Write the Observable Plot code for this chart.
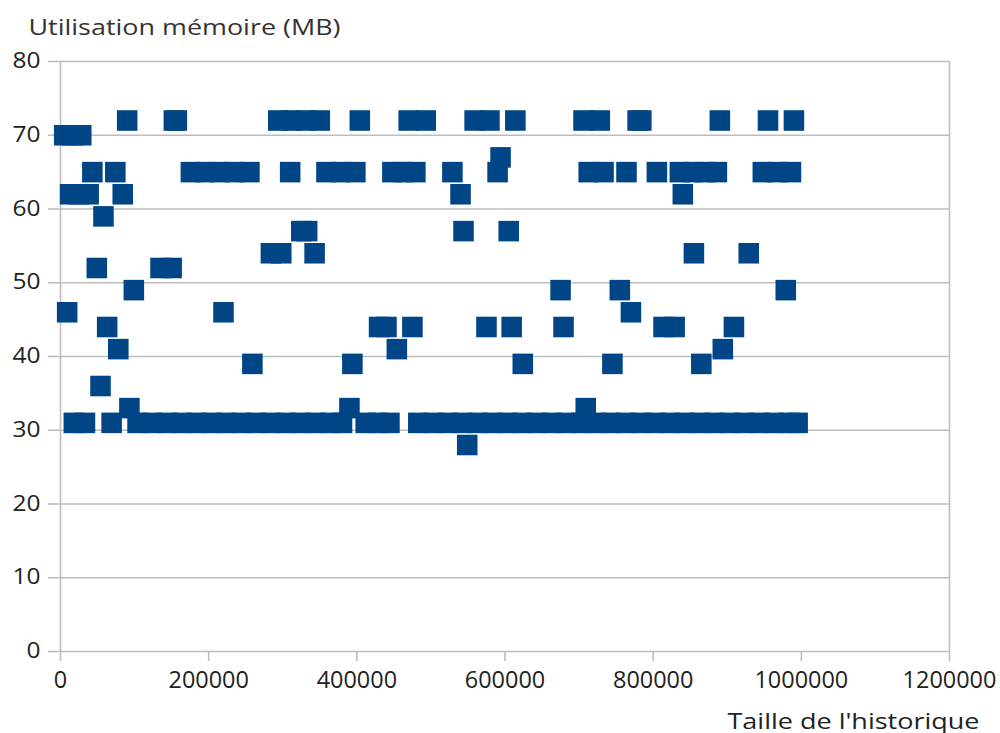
<!DOCTYPE html>
<html>
<head>
<meta charset="utf-8">
<script src="https://cdn.jsdelivr.net/npm/d3@7"></script>
<script src="https://cdn.jsdelivr.net/npm/@observablehq/plot@0.6"></script>
<style>
  html, body { margin: 0; padding: 0; background: #fff; }
  #chart { width: 1000px; height: 733px; }
</style>
</head>
<body>
<div id="chart"></div>
<script>
// Memory usage (MB) levels and the history sizes at which each level was measured
const mem72 = [90000, 153000, 157000, 294000, 312000, 331000, 350000, 404000, 470000, 493000, 559000, 579000, 614000, 706000, 728000, 779000, 784000, 890000, 955000, 990000];
const mem70 = [5000, 16000, 28000];
const mem67 = [594000];
const mem65 = [43000, 74000, 176000, 195000, 215000, 235000, 255000, 310000, 359000, 378000, 398000, 448000, 463000, 479000, 529000, 590000, 713000, 733000, 764000, 805000, 836000, 853000, 870000, 886000, 948000, 967000, 986000];
const mem62 = [13000, 25000, 38000, 84000, 540000, 840000];
const mem59 = [58000];
const mem57 = [325000, 333000, 544000, 605000];
const mem54 = [284000, 298000, 343000, 855000, 929000];
const mem52 = [49000, 135000, 150000];
const mem49 = [99000, 675000, 755000, 979000];
const mem46 = [9000, 220000, 770000];
const mem44 = [63000, 430000, 440000, 475000, 575000, 609000, 679000, 814000, 829000, 909000];
const mem41 = [78000, 454000, 894000];
const mem39 = [259000, 394000, 624000, 745000, 865000];
const mem36 = [54000];
const mem33 = [93000, 390000, 709000];
const mem31 = [18000, 33000, 69000,
  104000, 124000, 144000, 164000, 184000, 204000, 224000, 244000, 264000, 284000, 304000, 324000, 344000, 364000, 380000,
  412000, 428000, 444000,
  483000, 503000, 523000, 543000, 563000, 583000, 603000, 623000, 643000, 663000, 683000, 703000, 723000, 743000, 763000,
  783000, 803000, 823000, 843000, 863000, 883000, 903000, 923000, 943000, 963000, 983000, 995000];
const mem28 = [549000];

const xTicks = [0, 200000, 400000, 600000, 800000, 1000000, 1200000];
const yTicks = [0, 10, 20, 30, 40, 50, 60, 70, 80];
const yTitle = "Utilisation mémoire (MB)";
const xTitle = "Taille de l'historique";

const levels = [
  [72, mem72], [70, mem70], [67, mem67], [65, mem65], [62, mem62], [59, mem59],
  [57, mem57], [54, mem54], [52, mem52], [49, mem49], [46, mem46], [44, mem44],
  [41, mem41], [39, mem39], [36, mem36], [33, mem33], [31, mem31], [28, mem28]
];
const points = levels.flatMap(([mb, xs]) => xs.map(x => ({size: x, mb})));

const grid = "#bdbdbd";
const svg = Plot.plot({
  width: 1000,
  height: 733,
  marginLeft: 60,
  marginRight: 51,
  marginTop: 61,
  marginBottom: 82,
  style: {fontFamily: "'Open Sans', sans-serif", background: "#fff", color: "#222"},
  x: {domain: [0, 1200000]},
  y: {domain: [0, 80]},
  marks: [
    Plot.gridY(yTicks, {stroke: grid, strokeOpacity: 1, strokeWidth: 1.6}),
    Plot.ruleX([0, 1200000], {stroke: grid, strokeWidth: 1.6}),
    Plot.axisY(yTicks, {tickSize: 12, tickPadding: 8, stroke: grid, strokeWidth: 1.6, fontSize: 21, fill: "#222", label: null, tickFormat: d => String(d)}),
    Plot.axisX(xTicks, {tickSize: 10, tickPadding: 9, stroke: grid, strokeWidth: 1.6, fontSize: 24, fill: "#222", label: null, tickFormat: d => String(d)}),
    Plot.dot(points, {x: "size", y: "mb", symbol: "square", r: 11.6, fill: "#004586", stroke: "none"}),
    Plot.text([yTitle], {frameAnchor: "top-left", dx: -32, dy: -27, textAnchor: "start", lineAnchor: "bottom", fontSize: 21, fill: "#333"}),
    Plot.text([xTitle], {frameAnchor: "bottom-right", dx: 30, dy: 77, textAnchor: "end", lineAnchor: "bottom", fontSize: 21, fill: "#222"})
  ]
});

const root = d3.select(svg);
root.selectAll("text").each(function() {
  const t = this.textContent;
  if (t === yTitle) d3.select(this).attr("textLength", 312).attr("lengthAdjust", "spacingAndGlyphs");
  if (t === xTitle) d3.select(this).attr("textLength", 252).attr("lengthAdjust", "spacingAndGlyphs");
});
root.selectAll('g[aria-label="x-axis tick label"] text').each(function() {
  const n = this.textContent.length;
  d3.select(this).attr("textLength", 13.4 * n).attr("lengthAdjust", "spacingAndGlyphs");
});
root.selectAll('g[aria-label="y-axis tick label"] text').each(function() {
  const n = this.textContent.length;
  d3.select(this).attr("textLength", 14 * n).attr("lengthAdjust", "spacingAndGlyphs");
});
document.getElementById("chart").append(svg);
</script>
</body>
</html>
